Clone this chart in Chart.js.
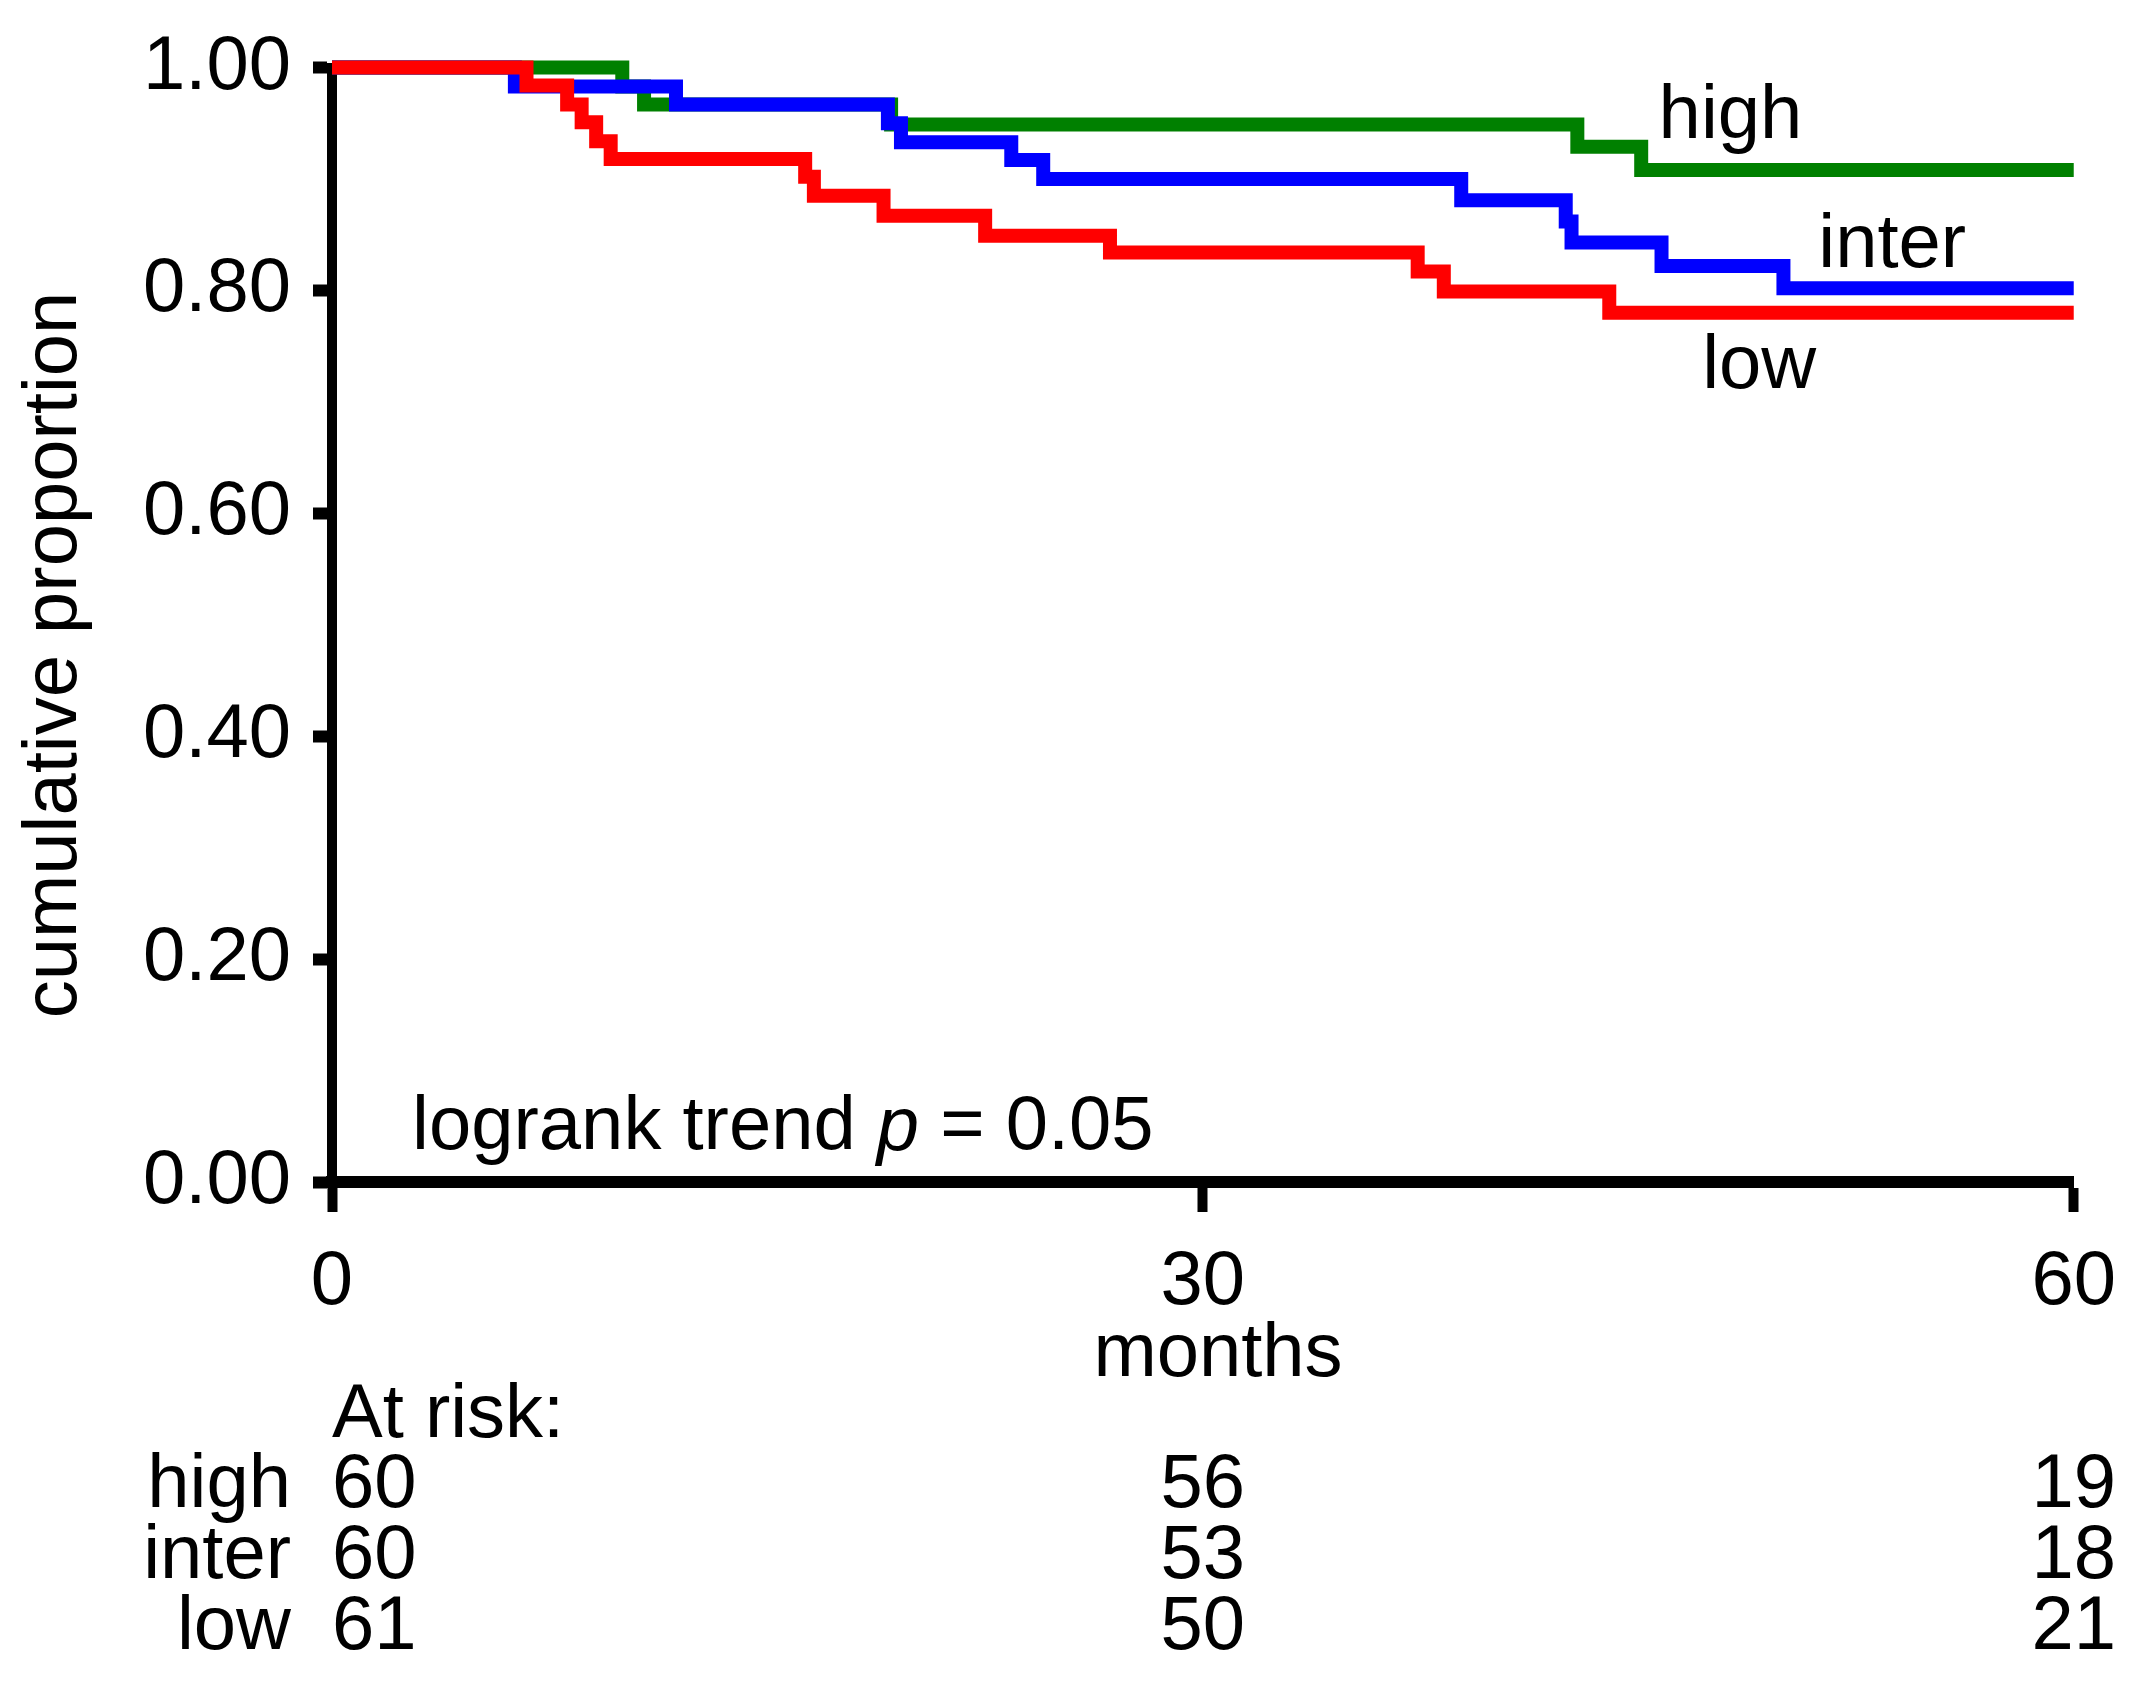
<!DOCTYPE html>
<html>
<head>
<meta charset="utf-8">
<script src="https://cdn.jsdelivr.net/npm/chart.js@4"></script>
<style>
  body { margin: 0; background: #fff; }
  #wrap { width: 2141px; height: 1685px; }
</style>
</head>
<body>
<div id="wrap"><canvas id="km" width="2141" height="1685"></canvas></div>
<script>
// Kaplan-Meier steps (months, cumulative proportion)
const lowMonths   = [0, 6.7, 8.1, 8.6, 9.1, 9.6, 16.3, 16.6, 19.0, 22.5, 26.8, 37.4, 38.3, 44.0, 60];
const lowSurv     = [1.000, 0.984, 0.967, 0.951, 0.934, 0.918, 0.902, 0.885, 0.867, 0.849, 0.834, 0.817, 0.799, 0.780, 0.780];
const interMonths = [0, 6.3, 11.85, 19.15, 19.6, 23.4, 24.5, 38.9, 42.5, 42.7, 45.8, 50.0, 60];
const interSurv   = [1.000, 0.983, 0.967, 0.950, 0.933, 0.917, 0.900, 0.881, 0.862, 0.843, 0.822, 0.802, 0.802];
const highMonths  = [0, 10.0, 10.75, 19.26, 42.9, 45.1, 60];
const highSurv    = [1.000, 0.983, 0.967, 0.949, 0.929, 0.908, 0.908];

const xTicks = [0, 30, 60];
const groups = ['high', 'inter', 'low'];
const atRiskHigh  = [60, 56, 19];
const atRiskInter = [60, 53, 18];
const atRiskLow   = [61, 50, 21];

const FONT_FAMILY = '"Liberation Sans", Arial, Helvetica, sans-serif';
const FONT_SIZE = 76;

function toPoints(xs, ys) {
    return xs.map(function (v, i) { return { x: v, y: ys[i] }; });
}

// text placed on the plot (data coordinates)
const curveLabels = [
    { text: 'high',  x: 45.7, y: 0.956 },
    { text: 'inter', x: 51.2, y: 0.840 },
    { text: 'low',   x: 47.2, y: 0.731 }
];

const textPlugin = {
    id: 'kmText',
    afterDraw(chart) {
        const ctx = chart.ctx;
        const area = chart.chartArea;
        const xs = chart.scales.x;
        const ys = chart.scales.y;
        ctx.save();
        ctx.fillStyle = '#000';
        ctx.textBaseline = 'middle';
        ctx.font = FONT_SIZE + 'px ' + FONT_FAMILY;

        // axis titles
        ctx.textAlign = 'center';
        ctx.fillText('months', 1218, area.bottom + 173);
        ctx.save();
        ctx.translate(55, 655);
        ctx.rotate(-Math.PI / 2);
        ctx.fillText('cumulative proportion', 0, 0);
        ctx.restore();

        // curve names
        ctx.textAlign = 'left';
        curveLabels.forEach(function (l) {
            ctx.fillText(l.text, xs.getPixelForValue(l.x), ys.getPixelForValue(l.y));
        });

        // logrank trend p = 0.05 (p in italics)
        let tx = xs.getPixelForValue(2.76);
        const ty = ys.getPixelForValue(0.048);
        const part1 = 'logrank trend ';
        ctx.fillText(part1, tx, ty);
        tx += ctx.measureText(part1).width;
        ctx.font = 'italic ' + FONT_SIZE + 'px ' + FONT_FAMILY;
        ctx.fillText('p', tx, ty);
        tx += ctx.measureText('p').width;
        ctx.font = FONT_SIZE + 'px ' + FONT_FAMILY;
        ctx.fillText(' = 0.05', tx, ty);

        // at-risk table
        const x0 = xs.getPixelForValue(0);
        ctx.fillText('At risk:', x0, area.bottom + 234);
        const rows = [atRiskHigh, atRiskInter, atRiskLow];
        rows.forEach(function (row, r) {
            const rowY = area.bottom + 304 + r * 71;
            ctx.textAlign = 'right';
            ctx.fillText(groups[r], area.left - 41, rowY);
            row.forEach(function (n, c) {
                if (c === 0) {
                    ctx.textAlign = 'left';
                    ctx.fillText(String(n), x0, rowY);
                } else {
                    ctx.textAlign = 'center';
                    ctx.fillText(String(n), xs.getPixelForValue(xTicks[c]), rowY);
                }
            });
        });
        ctx.restore();
    }
};

document.addEventListener("DOMContentLoaded", function () {
    const canvas = document.getElementById('km');
    new Chart(canvas.getContext('2d'), {
        type: 'line',
        data: {
            datasets: [
                { label: 'low',   data: toPoints(lowMonths, lowSurv),     borderColor: '#ff0000' },
                { label: 'inter', data: toPoints(interMonths, interSurv), borderColor: '#0000ff' },
                { label: 'high',  data: toPoints(highMonths, highSurv),   borderColor: '#008000' }
            ]
        },
        options: {
            responsive: false,
            devicePixelRatio: 1,
            animation: false,
            layout: { padding: { left: 0, top: 60, right: 67, bottom: 273 } },
            elements: {
                line: { borderWidth: 14, stepped: true, fill: false, borderCapStyle: 'butt', borderJoinStyle: 'miter', tension: 0 },
                point: { radius: 0, hoverRadius: 0 }
            },
            datasets: { line: { clip: false } },
            plugins: {
                legend: { display: false },
                tooltip: { enabled: false }
            },
            scales: {
                x: {
                    type: 'linear',
                    min: 0,
                    max: 60,
                    afterBuildTicks: function (scale) {
                        scale.ticks = xTicks.map(function (v) { return { value: v }; });
                    },
                    afterFit: function (scale) { scale.height = 230; },
                    border: { display: true, color: '#000', width: 12 },
                    grid: { drawOnChartArea: false, drawTicks: true, tickLength: 30, tickWidth: 10, tickColor: '#000' },
                    ticks: {
                        color: '#000',
                        padding: 25,
                        maxRotation: 0,
                        font: { family: FONT_FAMILY, size: FONT_SIZE }
                    }
                },
                y: {
                    min: 0,
                    max: 1,
                    afterFit: function (scale) { scale.width = 332; },
                    border: { display: true, color: '#000', width: 10 },
                    grid: { drawOnChartArea: false, drawTicks: true, tickLength: 19, tickWidth: 12, tickColor: '#000' },
                    ticks: {
                        stepSize: 0.2,
                        color: '#000',
                        padding: 22,
                        callback: function (v) { return Number(v).toFixed(2); },
                        font: { family: FONT_FAMILY, size: FONT_SIZE }
                    }
                }
            }
        },
        plugins: [textPlugin]
    });
});
</script>
</body>
</html>
